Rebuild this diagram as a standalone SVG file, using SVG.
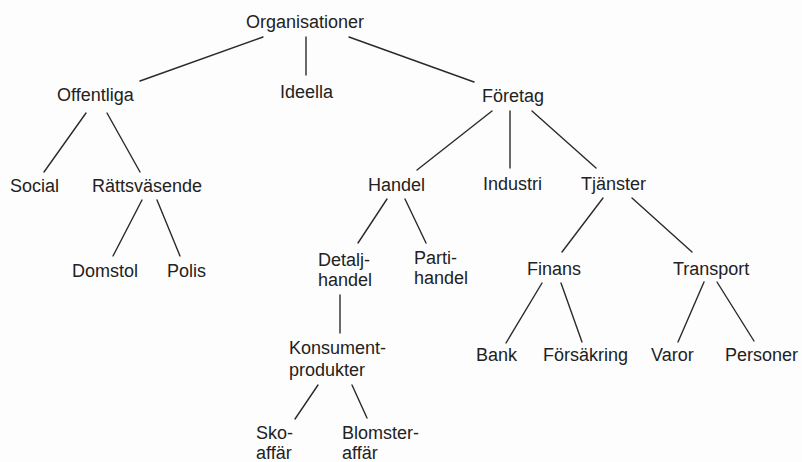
<svg xmlns="http://www.w3.org/2000/svg" width="802" height="462" viewBox="0 0 802 462">
  <style>
    text { font-family: "Liberation Sans", Arial, Helvetica, sans-serif; font-size: 18px; fill: #222; }
    .edges line { stroke: #2a2a2a; stroke-width: 1.4; stroke-linecap: round; }
  </style>
  <rect width="802" height="462" fill="#fdfdfd"/>

  <g class="edges" id="connectors">
    <line x1="263" y1="37" x2="140" y2="81"/>
    <line x1="306" y1="37" x2="306" y2="75"/>
    <line x1="349" y1="37" x2="474" y2="82"/>
    <line x1="86" y1="113" x2="44" y2="172"/>
    <line x1="107" y1="113" x2="140" y2="172"/>
    <line x1="142" y1="200" x2="113" y2="256"/>
    <line x1="157" y1="200" x2="180" y2="256"/>
    <line x1="492" y1="111" x2="417" y2="170"/>
    <line x1="510" y1="111" x2="510" y2="168"/>
    <line x1="532" y1="111" x2="596" y2="168"/>
    <line x1="387" y1="199" x2="358" y2="243"/>
    <line x1="405" y1="199" x2="426" y2="243"/>
    <line x1="603" y1="198" x2="562" y2="252"/>
    <line x1="632" y1="198" x2="692" y2="252"/>
    <line x1="340" y1="295" x2="340" y2="333"/>
    <line x1="318" y1="385" x2="295" y2="419"/>
    <line x1="352" y1="385" x2="367" y2="418"/>
    <line x1="542" y1="283" x2="506" y2="343"/>
    <line x1="561" y1="283" x2="582" y2="342"/>
    <line x1="704" y1="282" x2="678" y2="342"/>
    <line x1="717" y1="282" x2="754" y2="341"/>
  </g>

  <g id="organisationer"><text x="246" y="28">Organisationer</text></g>
  <g id="offentliga"><text x="57" y="101">Offentliga</text></g>
  <g id="ideella"><text x="280" y="98">Ideella</text></g>
  <g id="foretag"><text x="482" y="102">Företag</text></g>
  <g id="social"><text x="10" y="192">Social</text></g>
  <g id="rattsvasende"><text x="92" y="192">Rättsväsende</text></g>
  <g id="domstol"><text x="72" y="277">Domstol</text></g>
  <g id="polis"><text x="167" y="277">Polis</text></g>
  <g id="handel"><text x="368" y="191">Handel</text></g>
  <g id="industri"><text x="483" y="190">Industri</text></g>
  <g id="tjanster"><text x="581" y="190">Tjänster</text></g>
  <g id="detaljhandel"><text x="318" y="266">Detalj-</text><text x="318" y="286">handel</text></g>
  <g id="partihandel"><text x="414" y="264">Parti-</text><text x="414" y="284">handel</text></g>
  <g id="finans"><text x="527" y="275">Finans</text></g>
  <g id="transport"><text x="673" y="275">Transport</text></g>
  <g id="konsumentprodukter"><text x="289" y="354">Konsument-</text><text x="289" y="376">produkter</text></g>
  <g id="bank"><text x="476" y="361">Bank</text></g>
  <g id="forsakring"><text x="543" y="361">Försäkring</text></g>
  <g id="varor"><text x="651" y="361">Varor</text></g>
  <g id="personer"><text x="725" y="361">Personer</text></g>
  <g id="skoaffar"><text x="256" y="439">Sko-</text><text x="256" y="459">affär</text></g>
  <g id="blomsteraffar"><text x="342" y="439">Blomster-</text><text x="342" y="459">affär</text></g>
</svg>
